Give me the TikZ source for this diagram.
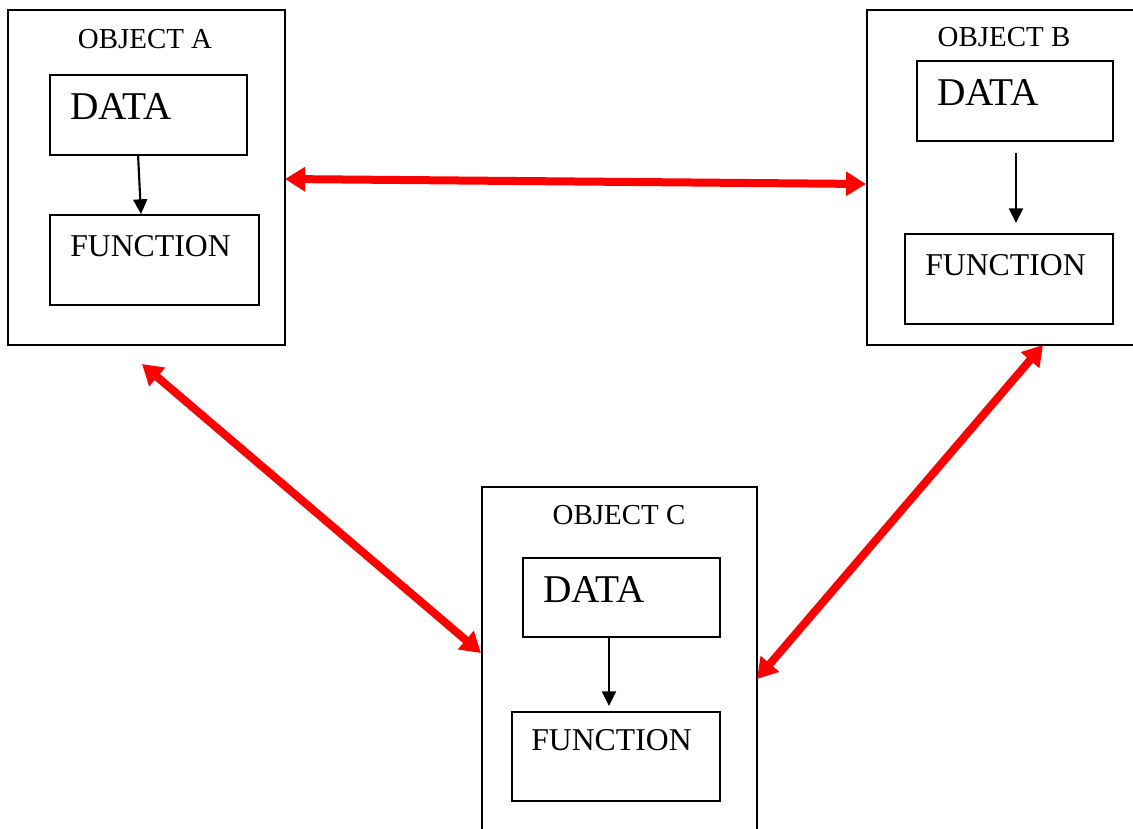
\documentclass[tikz,border=0pt]{standalone}
\usepackage{fontspec}
\setmainfont{Liberation Serif}
\usetikzlibrary{arrows.meta}
\tikzset{
  x=0.75pt, y=-0.75pt,
  objbox/.style={draw=black, line width=1.5pt, anchor=north west, inner sep=0pt, fill=none},
  partbox/.style={draw=black, line width=1.5pt, anchor=north west, inner sep=0pt},
  title/.style={anchor=base, inner sep=0pt, font=\fontsize{21.7pt}{24pt}\selectfont},
  datatxt/.style={anchor=base west, inner sep=0pt, font=\fontsize{29.5pt}{32pt}\selectfont},
  functxt/.style={anchor=base west, inner sep=0pt, font=\fontsize{23.8pt}{26pt}\selectfont},
  flow/.style={draw=black, line width=1.6pt, -{Triangle[length=11pt,width=10.5pt]}},
  link/.style={draw=red, line width=6pt, {Triangle[length=15pt,width=17.5pt]}-{Triangle[length=15pt,width=17.5pt]}},
}
\begin{document}
\begin{tikzpicture}
\useasboundingbox (0,0) rectangle (1133,829);

% Object A
\node[objbox, minimum width=207.75pt, minimum height=251.25pt] (objA) at (7,9) {};
\node[title] (titleA) at (145,48) {OBJECT A};
\node[partbox, minimum width=147.75pt, minimum height=60pt] (dataA) at (49,74) {};
\node[datatxt] (dataAtxt) at (70,119) {DATA};
\node[partbox, minimum width=156.75pt, minimum height=67.5pt] (funcA) at (49,214) {};
\node[functxt] (funcAtxt) at (70,256) {FUNCTION};
\coordinate (aTop) at (138,154);
\coordinate (aBot) at (141,214);
\draw[flow] (aTop) -- (aBot);

% Object B
\node[objbox, minimum width=204pt, minimum height=251.25pt] (objB) at (866,9) {};
\node[title] (titleB) at (1004,46) {OBJECT B};
\node[partbox, minimum width=147pt, minimum height=60pt] (dataB) at (916,60) {};
\node[datatxt] (dataBtxt) at (937,105) {DATA};
\node[partbox, minimum width=156pt, minimum height=67.5pt] (funcB) at (904,233) {};
\node[functxt] (funcBtxt) at (925,275) {FUNCTION};
\coordinate (bTop) at (1016,153);
\coordinate (bBot) at (1016,223);
\draw[flow] (bTop) -- (bBot);

% Object C
\node[objbox, minimum width=206.25pt, minimum height=262pt] (objC) at (481,486) {};
\node[title] (titleC) at (619,524) {OBJECT C};
\node[partbox, minimum width=147.75pt, minimum height=59.25pt] (dataC) at (522,557) {};
\node[datatxt] (dataCtxt) at (543,602) {DATA};
\node[partbox, minimum width=156pt, minimum height=66.75pt] (funcC) at (511,711) {};
\node[functxt] (funcCtxt) at (531,750) {FUNCTION};
\coordinate (cTop) at (609,636);
\coordinate (cBot) at (609,706);
\draw[flow] (cTop) -- (cBot);

% Messages between the objects
\coordinate (abA) at (285,179);
\coordinate (abB) at (866,184);
\coordinate (acA) at (142,364);
\coordinate (acC) at (481,653);
\coordinate (bcB) at (1043,345);
\coordinate (bcC) at (757,679);
\draw[link] (abA) -- (abB);
\draw[link] (acA) -- (acC);
\draw[link] (bcB) -- (bcC);
\end{tikzpicture}
\end{document}
